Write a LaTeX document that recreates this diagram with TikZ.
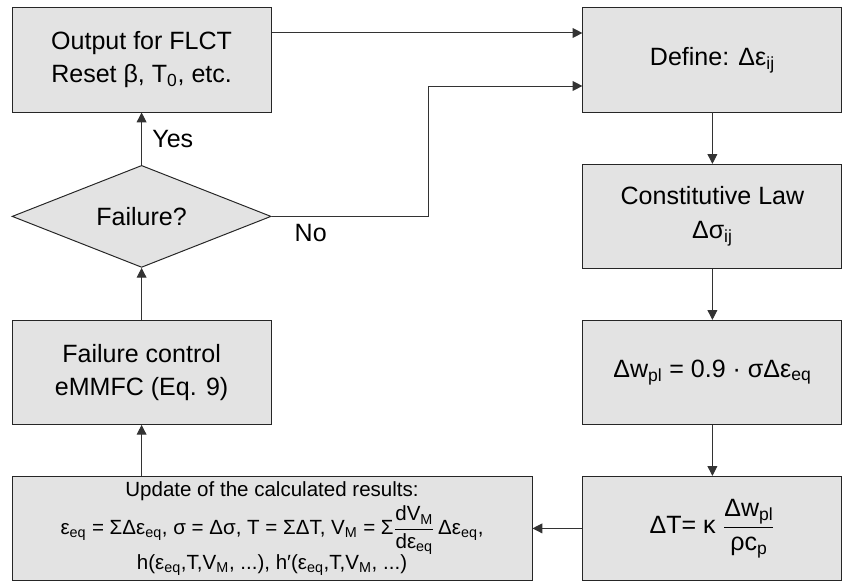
\documentclass[tikz,border=0pt]{standalone}
\usepackage{fontspec}
\setmainfont{Liberation Sans}
\usepackage{amsmath}
\usetikzlibrary{arrows.meta,shapes.geometric}

\begin{document}
\begin{tikzpicture}[
  box/.style={draw=black!85, fill=black!11, line width=0.7pt, minimum width=6.475cm,
    minimum height=2.6cm, align=center, font=\fontsize{17.8}{23.5}\selectfont},
  decide/.style={diamond, draw=black!85, fill=black!11, line width=0.7pt, aspect=2.5,
    minimum width=6.475cm, minimum height=2.55cm, inner sep=0pt, font=\fontsize{17.8}{23.5}\selectfont},
  flow/.style={draw=black!80, line width=0.7pt, -{Triangle[length=7pt,width=7pt]}},
  lbl/.style={font=\fontsize{17.8}{23.5}\selectfont}
]
\useasboundingbox (0,0) rectangle (21.075,14.55);

\node[box] (out) at (3.54,13.05) {Output for FLCT\\Reset β, T\textsubscript{0}, etc.};
\node[decide] (fail) at (3.54,9.14) {Failure?};
\node[box] (ctrl) at (3.54,5.24) {Failure control\\eMMFC (Eq. 9)};
\node[box, minimum width=13cm, inner ysep=1pt, font=\fontsize{14.6}{16}\selectfont] (upd) at (6.8,1.34)
  {Update of the calculated results:\\[3pt]
   ε\textsubscript{eq} = ΣΔε\textsubscript{eq}, σ = Δσ, T = ΣΔT, V\textsubscript{M} = Σ$\dfrac{\text{dV\textsubscript{M}}}{\text{dε\textsubscript{eq}}}$\,Δε\textsubscript{eq},\\[-1pt]
   h(ε\textsubscript{eq},T,V\textsubscript{M}, ...), h′(ε\textsubscript{eq},T,V\textsubscript{M}, ...)};

\node[box] (def) at (17.81,13.05) {Define: Δε\textsubscript{ij}};
\node[box] (law) at (17.81,9.14) {Constitutive Law\\Δσ\textsubscript{ij}};
\node[box] (work) at (17.81,5.24) {Δw\textsubscript{pl} = 0.9 · σΔε\textsubscript{eq}};
\node[box] (heat) at (17.81,1.34) {ΔT= κ $\dfrac{\text{Δw\textsubscript{pl}}}{\text{ρc\textsubscript{p}}}$};

\coordinate (noturn) at (10.7,12.4);
\coordinate (nolow) at (fail.east -| noturn);

\draw[flow] ([yshift=0.675cm]out.east) -- ([yshift=0.675cm]def.west);
\draw[flow] (fail.east) -- node[lbl, pos=0.25, below=2pt] {No} (nolow) -- (noturn) -- (noturn -| def.west);
\draw[flow] (fail.north) -- node[lbl, right=4pt] {Yes} (out.south);
\draw[flow] (def) -- (law);
\draw[flow] (law) -- (work);
\draw[flow] (work) -- (heat);
\draw[flow] (heat) -- (upd);
\draw[flow] (upd.north -| ctrl.south) -- (ctrl.south);
\draw[flow] (ctrl) -- (fail);
\end{tikzpicture}
\end{document}
